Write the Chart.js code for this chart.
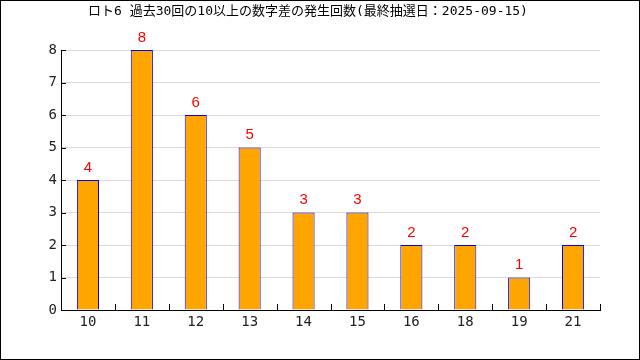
<!DOCTYPE html>
<html>
<head>
<meta charset="utf-8">
<script src="https://cdn.jsdelivr.net/npm/chart.js@4"></script>
<style>
  html, body { margin: 0; padding: 0; background: #fff; }
  #wrap { width: 640px; height: 360px; box-sizing: border-box; border: 1px solid #000; position: relative; }
  canvas { display: block; }
</style>
</head>
<body>
<div id="wrap"><canvas id="chart" width="638" height="358"></canvas></div>
<script>
const titleText = "ロト6 過去30回の10以上の数字差の発生回数(最終抽選日：2025-09-15)";
const categories = ["10", "11", "12", "13", "14", "15", "16", "18", "19", "21"];
const counts = [4, 8, 6, 5, 3, 3, 2, 2, 1, 2];
const yTicks = [0, 1, 2, 3, 4, 5, 6, 7, 8];

const MONO = "'DejaVu Sans Mono', 'Noto Sans CJK JP', monospace";
const SANS = "'Liberation Sans', Arial, sans-serif";

// title, value labels above bars, inward tick marks
const extrasPlugin = {
    id: "extras",
    afterDatasetsDraw(chart) {
        const ctx = chart.ctx;
        const meta = chart.getDatasetMeta(0);
        ctx.save();
        ctx.fillStyle = "#ff0000";
        ctx.font = "15px " + SANS;
        ctx.textAlign = "center";
        ctx.textBaseline = "bottom";
        meta.data.forEach((bar, i) => {
            ctx.fillText(String(counts[i]), bar.x, bar.y - 5);
        });
        ctx.restore();
    },
    afterDraw(chart) {
        const ctx = chart.ctx;
        const x = chart.scales.x;
        const y = chart.scales.y;
        ctx.save();
        ctx.fillStyle = "#000";
        ctx.font = "13px " + MONO;
        ctx.textAlign = "center";
        ctx.textBaseline = "middle";
        ctx.fillText(titleText, 307, 11);

        ctx.strokeStyle = "#000";
        ctx.lineWidth = 1;
        ctx.beginPath();
        yTicks.forEach((v) => {
            const py = Math.round(y.getPixelForValue(v)) + 0.5;
            ctx.moveTo(x.left, py);
            ctx.lineTo(x.left + 5, py);
        });
        for (let i = 1; i <= categories.length; i++) {
            const px = Math.round(x.getPixelForTick(i - 1) + (x.width / categories.length) / 2) + 0.5;
            ctx.moveTo(px, y.bottom);
            ctx.lineTo(px, y.bottom - 6);
        }
        ctx.stroke();
        ctx.restore();
    },
};

new Chart(document.getElementById("chart"), {
    type: "bar",
    data: {
        labels: categories,
        datasets: [{
            data: counts,
            backgroundColor: "#ffa500",
            borderColor: "#0000ff",
            borderWidth: 1,
            barPercentage: 0.41,
            categoryPercentage: 1.0,
        }],
    },
    options: {
        responsive: false,
        animation: false,
        layout: { padding: { left: 0, right: 39, top: 49, bottom: 0 } },
        plugins: {
            legend: { display: false },
            tooltip: { enabled: false },
            title: { display: false },
        },
        scales: {
            x: {
                grid: { display: false, drawTicks: false, tickLength: 0 },
                border: { color: "#000", width: 1 },
                ticks: { color: "#222", font: { family: MONO, size: 14 }, padding: 4 },
                afterFit(scale) { scale.height = 49; },
            },
            y: {
                min: 0,
                max: 8,
                afterBuildTicks(scale) { scale.ticks = yTicks.map((v) => ({ value: v })); },
                grid: { color: "#d9d9d9", drawTicks: false },
                border: { color: "#000", width: 1 },
                ticks: { color: "#222", font: { family: MONO, size: 14 }, padding: 4 },
                afterFit(scale) { scale.width = 60; },
            },
        },
    },
    plugins: [extrasPlugin],
});
</script>
</body>
</html>
